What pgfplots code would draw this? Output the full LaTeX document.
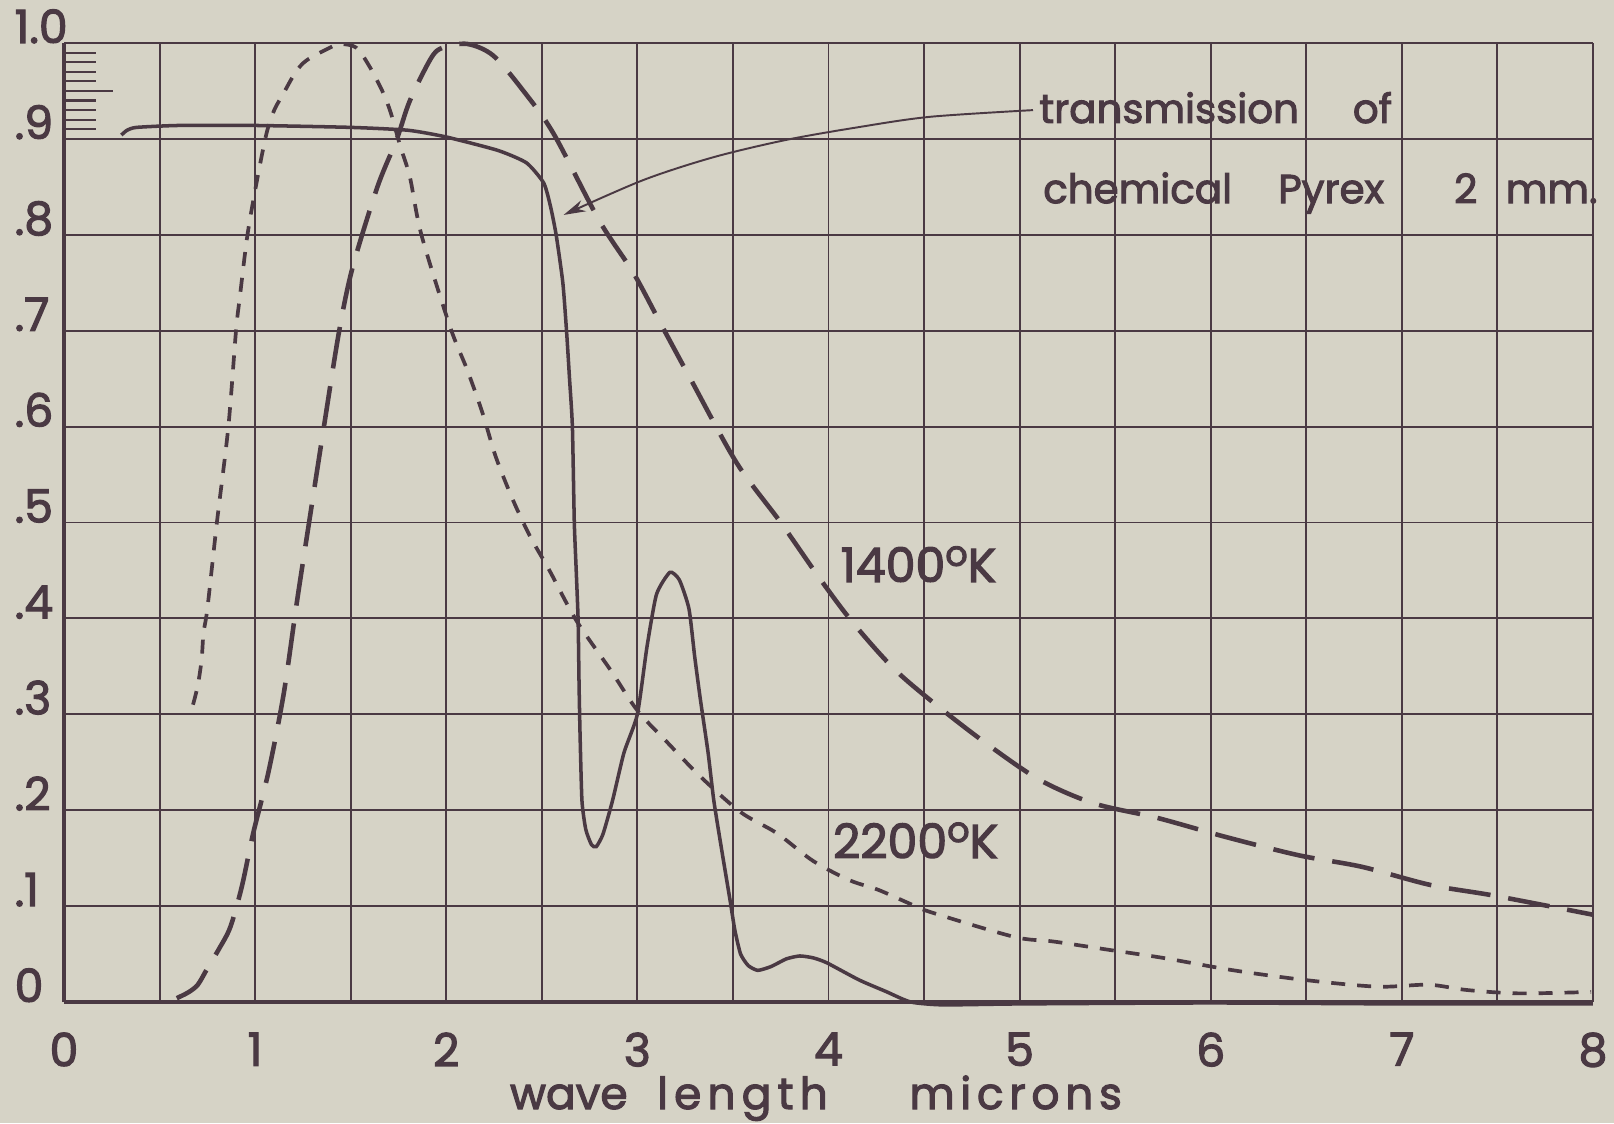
\documentclass[border=0pt]{standalone}
\usepackage{fontspec}
\setmainfont{Poppins}[FakeBold=2.5]
\usepackage{pgfplots}
\pgfplotsset{compat=1.18}
\usetikzlibrary{arrows.meta}

\definecolor{paper}{RGB}{214,211,198}
\definecolor{ink}{RGB}{74,57,67}

\newcommand{\tickfont}{\fontsize{13}{15}\selectfont}
\newcommand{\notefont}{\fontsize{11.5}{13}\selectfont}
\newcommand{\labfont}{\fontsize{12.5}{14}\selectfont}
\newcommand{\curvefont}{\fontsize{13.5}{15}\selectfont}
\newcommand{\degK}{\raisebox{0.34em}{\fontsize{10}{10}\selectfont o}K}

\begin{document}
\begin{tikzpicture}
% paper, also fixes the page size
\path[use as bounding box, fill=paper] (-0.64,-1.21) rectangle (15.50,10.02);

\begin{axis}[
    at={(0,0)}, anchor=south west,
    scale only axis,
    width=15.29cm, height=9.59cm,
    xmin=0, xmax=8, ymin=0, ymax=1,
    clip=false,
    axis lines=left,
    axis line style={-, line width=1pt, ink},
    xtick={0,0.5,1,1.5,2,2.5,3,3.5,4,4.5,5,5.5,6,6.5,7,7.5,8},
    xticklabels={0,,1,,2,,3,,4,,5,,6,,7,,8},
    ytick={0,0.1,0.2,0.3,0.4,0.5,0.6,0.7,0.8,0.9,1.0},
    yticklabels={0,.1,.2,.3,.4,.5,.6,.7,.8,.9,1.0},
    minor ytick={0.91,0.92,0.93,0.94,0.96,0.97,0.98,0.99},
    extra y ticks={0.95},
    extra y tick labels={},
    extra y tick style={major tick length=0.49cm, grid=none},
    tick align=inside,
    major tick length=0pt,
    minor tick length=0.32cm,
    tick style={ink, line width=0.6pt},
    xmajorgrids, ymajorgrids,
    grid style={ink, line width=0.55pt},
    xticklabel style={font=\tickfont, text=ink, anchor=north, inner sep=0pt, yshift=-0.3cm},
    yticklabel style={font=\tickfont, text=ink, anchor=base west, inner sep=0pt, xshift=-0.5cm},
]

% transmission of chemical Pyrex 2 mm
\addplot[ink, line width=1pt, smooth, tension=0.35] coordinates {
(0.30,0.904) (0.33,0.909) (0.38,0.912) (0.6,0.914) (1.0,0.914) (1.5,0.912)
(1.8,0.909) (2.0,0.902) (2.27,0.888) (2.42,0.875) (2.51,0.854) (2.545,0.83)
(2.575,0.80) (2.61,0.75) (2.63,0.698) (2.645,0.65) (2.66,0.60) (2.67,0.50)
(2.68,0.45) (2.69,0.398) (2.695,0.33) (2.70,0.28) (2.71,0.21) (2.73,0.18)
(2.76,0.164) (2.785,0.162) (2.82,0.175) (2.87,0.21) (2.93,0.26) (3.0,0.30)
(3.05,0.37) (3.10,0.425) (3.17,0.448) (3.22,0.44) (3.27,0.41) (3.30,0.36)
(3.33,0.315) (3.37,0.26) (3.40,0.21) (3.44,0.16) (3.485,0.106) (3.51,0.075)
(3.54,0.05) (3.58,0.038) (3.63,0.033) (3.70,0.037) (3.78,0.045) (3.85,0.048)
(3.92,0.046) (3.99,0.041) (4.16,0.023) (4.30,0.011) (4.43,0.0) (4.6,-0.003)
(5.0,-0.002) (6.0,-0.001) (7.0,-0.002) (8.0,-0.002)
};

% 1400 K
\addplot[ink, line width=1.3pt, dash pattern=on 0.42cm off 0.18cm, smooth] coordinates {
(0.59,0.004) (0.65,0.01) (0.70,0.018) (0.75,0.035) (0.81,0.055) (0.87,0.078)
(0.93,0.12) (0.99,0.176) (1.07,0.24) (1.15,0.322) (1.22,0.419) (1.29,0.51)
(1.36,0.60) (1.44,0.70) (1.51,0.766) (1.64,0.85) (1.74,0.899) (1.81,0.94)
(1.92,0.984) (1.98,0.995) (2.11,0.999) (2.245,0.987) (2.40,0.951) (2.56,0.906)
(2.80,0.815) (2.98,0.76) (3.12,0.708) (3.28,0.649) (3.52,0.562) (3.75,0.50)
(3.96,0.44) (4.13,0.395) (4.35,0.346) (4.60,0.304) (4.85,0.266) (5.11,0.231)
(5.39,0.207) (5.72,0.192) (6.08,0.172) (6.46,0.153) (6.79,0.141) (7.15,0.122)
(7.48,0.111) (8.0,0.091)
};

% 2200 K
\addplot[ink, line width=1.05pt, dash pattern=on 0.14cm off 0.12cm, smooth] coordinates {
(0.675,0.31) (0.70,0.33) (0.72,0.357) (0.73,0.385) (0.75,0.41) (0.80,0.50)
(0.86,0.60) (0.90,0.70) (0.92,0.735) (0.96,0.80) (1.01,0.857) (1.06,0.906)
(1.10,0.93) (1.15,0.948) (1.21,0.969) (1.27,0.982) (1.41,0.997) (1.45,0.999)
(1.53,0.995) (1.60,0.975) (1.67,0.948) (1.71,0.927) (1.76,0.892) (1.81,0.86)
(1.87,0.80) (2.02,0.704) (2.11,0.659) (2.19,0.614) (2.26,0.568) (2.35,0.523)
(2.44,0.485) (2.54,0.45) (2.68,0.398) (2.86,0.346) (3.0,0.304)
(3.16,0.27) (3.33,0.235) (3.54,0.198) (3.73,0.176) (3.92,0.147) (4.11,0.127)
(4.26,0.117) (4.42,0.103) (4.53,0.094) (4.97,0.068) (5.18,0.063) (5.48,0.054)
(5.75,0.046) (6.12,0.033) (6.49,0.023) (6.87,0.016) (7.14,0.018) (7.34,0.0125)
(7.61,0.009) (7.99,0.0105)
};

% annotation arrow
\addplot[ink, line width=0.55pt, smooth, -{Stealth[length=0.22cm, width=0.12cm]}] coordinates {
(5.07,0.930) (4.53,0.923) (4.15,0.912) (3.78,0.899) (3.40,0.881) (3.03,0.857) (2.614,0.8207)
};

\begin{scope}[every node/.style={anchor=base west, inner sep=0pt, text=ink}]
\node[font=\notefont] at (axis cs:5.10,0.9166) {transmission};
\node[font=\notefont] at (axis cs:6.74,0.9166) {of};
\node[font=\notefont] at (axis cs:5.12,0.833) {chemical};
\node[font=\notefont] at (axis cs:6.35,0.833) {Pyrex};
\node[font=\notefont] at (axis cs:7.27,0.833) {2};
\node[font=\notefont] at (axis cs:7.54,0.833) {mm.};

\node[font=\curvefont] at (axis cs:4.06,0.438) {1400\degK};
\node[font=\curvefont] at (axis cs:4.02,0.150) {2200\degK};

\node[font=\labfont] at (axis cs:2.33,-0.1116) {wave};
\node[font=\labfont] at (axis cs:3.1,-0.1116) {\addfontfeatures{LetterSpace=14}length};
\node[font=\labfont] at (axis cs:4.42,-0.1116) {\addfontfeatures{LetterSpace=13}microns};
\end{scope}
\end{axis}
\end{tikzpicture}
\end{document}
